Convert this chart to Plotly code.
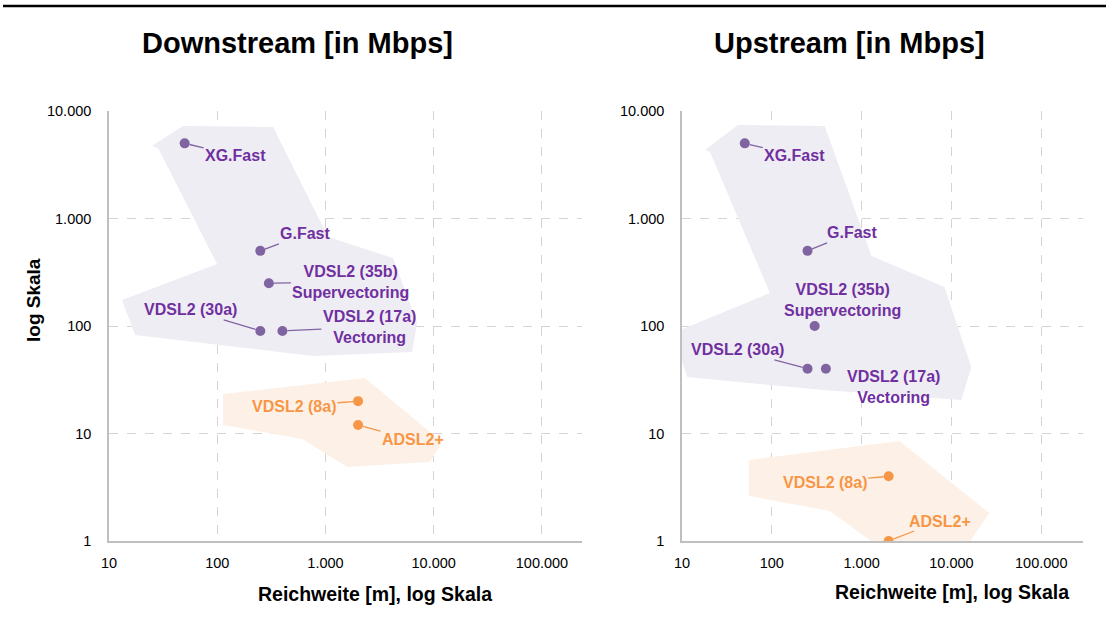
import numpy as np
import plotly.graph_objects as go

# ---------------- data ----------------
tech_purple = ["XG.Fast", "G.Fast", "VDSL2 (35b)<br>Supervectoring", "VDSL2 (30a)", "VDSL2 (17a)<br>Vectoring"]
tech_orange = ["VDSL2 (8a)", "ADSL2+"]

# Reichweite [m]
reach_purple = [50, 250, 300, 250, 400]
reach_orange = [2000, 2000]

# Downstream [Mbps]
down_purple = [5000, 500, 250, 90, 90]
down_orange = [20, 12]

# Upstream [Mbps]
up_purple = [5000, 500, 100, 40, 40]
up_orange = [4, 1]

# region outlines (reach [m], rate [Mbps])
down_region_purple_x = [24.8, 48.3, 328, 1057, 4217, 7030, 6310, 767, 17.4, 13.2, 99.6, 28.4]
down_region_purple_y = [4723, 7250, 7100, 673, 429, 107, 57.3, 52.6, 82.4, 174.6, 377, 4528]
down_region_orange_x = [113, 2322, 11970, 9270, 1585, 608, 113]
down_region_orange_y = [23.3, 32.8, 8.34, 5.43, 4.88, 8.89, 12.0]

up_region_purple_x = [18.0, 41.9, 388, 1291, 8357, 16680, 12910, 369, 11.4, 7.94, 95, 20.5]
up_region_purple_y = [4337, 7413, 7250, 448, 230.6, 41.5, 20.5, 25.4, 33.5, 86.1, 202.8, 4155]
up_region_orange_x = [55.5, 2644, 26430, 15060, 1468, 441, 55.5]
up_region_orange_y = [5.67, 8.51, 1.82, 0.917, 0.917, 1.90, 2.62]

x_tickvals = [10, 100, 1000, 10000, 100000]
x_ticktext = ["10", "100", "1.000", "10.000", "100.000"]
y_tickvals = [1, 10, 100, 1000, 10000]
y_ticktext = ["1", "10", "100", "1.000", "10.000"]

titles = ["Downstream [in Mbps]", "Upstream [in Mbps]"]
x_title = "Reichweite [m], log Skala"
y_title = "log Skala"

# label offsets in pixels (ax, ay, show leader)
down_purple_off = [(51, 12, True), (45, -17, True), (82, -1, True), (-70, -21, True), (87, -4, True)]
down_orange_off = [(-64, 5, True), (55, 15, True)]
up_purple_off = [(50, 12, True), (44, -18, True), (28, -26, False), (-70, -19, True), (68, 18, False)]
up_orange_off = [(-64, 6, True), (51, -20, True)]

# ---------------- style ----------------
FONT = "Liberation Sans, Arial, sans-serif"
P_MARK = "#8064a2"
P_TEXT = "#7030a0"
P_FILL = "#efedf4"
O_MARK = "#f79646"
O_TEXT = "#f79646"
O_FILL = "#fdf1e7"

fig = go.Figure()

def add_region(xs, ys, color, xa, ya):
    fig.add_trace(go.Scatter(x=xs + [xs[0]], y=ys + [ys[0]], mode="lines", fill="toself",
                             fillcolor=color, line=dict(width=0, color=color),
                             hoverinfo="skip", showlegend=False, xaxis=xa, yaxis=ya))

def add_points(xs, ys, color, xa, ya, names):
    fig.add_trace(go.Scatter(x=xs, y=ys, mode="markers", marker=dict(size=10, color=color),
                             text=[n.replace("<br>", " ") for n in names], hoverinfo="text+x+y",
                             showlegend=False, xaxis=xa, yaxis=ya))

def add_labels(xs, ys, names, offs, mcolor, tcolor, xref, yref):
    for x, y, n, (ax, ay, show) in zip(xs, ys, names, offs):
        fig.add_annotation(x=np.log10(x), y=np.log10(y), xref=xref, yref=yref,
                           text="<b>" + n + "</b>",
                           showarrow=True, ax=ax, ay=ay, arrowhead=0, arrowwidth=1.3,
                           arrowcolor=mcolor if show else "rgba(0,0,0,0)", standoff=5,
                           font=dict(family=FONT, size=16, color=tcolor),
                           align="center")

# downstream
add_region(down_region_purple_x, down_region_purple_y, P_FILL, "x", "y")
add_region(down_region_orange_x, down_region_orange_y, O_FILL, "x", "y")
add_points(reach_purple, down_purple, P_MARK, "x", "y", tech_purple)
add_points(reach_orange, down_orange, O_MARK, "x", "y", tech_orange)
add_labels(reach_purple, down_purple, tech_purple, down_purple_off, P_MARK, P_TEXT, "x", "y")
add_labels(reach_orange, down_orange, tech_orange, down_orange_off, O_MARK, O_TEXT, "x", "y")

# upstream
add_region(up_region_purple_x, up_region_purple_y, P_FILL, "x2", "y2")
add_region(up_region_orange_x, up_region_orange_y, O_FILL, "x2", "y2")
add_points(reach_purple, up_purple, P_MARK, "x2", "y2", tech_purple)
add_points(reach_orange, up_orange, O_MARK, "x2", "y2", tech_orange)
add_labels(reach_purple, up_purple, tech_purple, up_purple_off, P_MARK, P_TEXT, "x2", "y2")
add_labels(reach_orange, up_orange, tech_orange, up_orange_off, O_MARK, O_TEXT, "x2", "y2")

W, H = 1106, 638
ydom = [(H - 541) / H, (H - 111) / H]

axis_common = dict(type="log", showgrid=True, gridcolor="#d4d4d4", griddash="dash", gridwidth=1,
                   showline=True, linecolor="#bfbfbf", linewidth=1.5, zeroline=False,
                   automargin=False, ticks="outside", tickcolor="rgba(0,0,0,0)",
                   tickfont=dict(family=FONT, size=14.5, color="#000000"))

fig.update_layout(
    width=W, height=H, autosize=False, margin=dict(l=0, r=0, t=0, b=0, pad=0, autoexpand=False),
    paper_bgcolor="white", plot_bgcolor="white", showlegend=False,
    xaxis=dict(axis_common, domain=[109 / W, 582 / W], range=[1, 5.37], anchor="y",
               tickvals=x_tickvals, ticktext=x_ticktext, ticklen=8),
    yaxis=dict(axis_common, domain=ydom, range=[0, 4], anchor="x",
               tickvals=y_tickvals, ticktext=y_ticktext, ticklen=13),
    xaxis2=dict(axis_common, domain=[682 / W, 1083 / W], range=[1, 5.465], anchor="y2",
                tickvals=x_tickvals, ticktext=x_ticktext, ticklen=8),
    yaxis2=dict(axis_common, domain=ydom, range=[0, 4], anchor="x2",
                tickvals=y_tickvals, ticktext=y_ticktext, ticklen=13),
)

# titles
for t, cx in zip(titles, [297, 849]):
    fig.add_annotation(text="<b>" + t + "</b>", x=cx / W, y=(H - 43) / H, xref="paper", yref="paper",
                       showarrow=False, font=dict(family=FONT, size=29, color="#000000"),
                       xanchor="center", yanchor="middle")
for cx, cy in zip([375, 952], [594, 592]):
    fig.add_annotation(text="<b>" + x_title + "</b>", x=cx / W, y=(H - cy) / H, xref="paper", yref="paper",
                       showarrow=False, font=dict(family=FONT, size=19.5, color="#000000"),
                       xanchor="center", yanchor="middle")
fig.add_annotation(text="<b>" + y_title + "</b>", x=33 / W, y=(H - 300) / H, xref="paper", yref="paper",
                   showarrow=False, textangle=-90, font=dict(family=FONT, size=19, color="#000000"),
                   xanchor="center", yanchor="middle")

# top rule
fig.add_shape(type="line", xref="paper", yref="paper", x0=3 / W, x1=1, y0=(H - 6) / H, y1=(H - 6) / H,
              line=dict(color="#000000", width=2.5))

js = "document.body.style.margin='0';document.body.style.padding='0';document.body.style.overflow='hidden';"
fig.write_html("out.html", config={"displayModeBar": False}, post_script=js)
